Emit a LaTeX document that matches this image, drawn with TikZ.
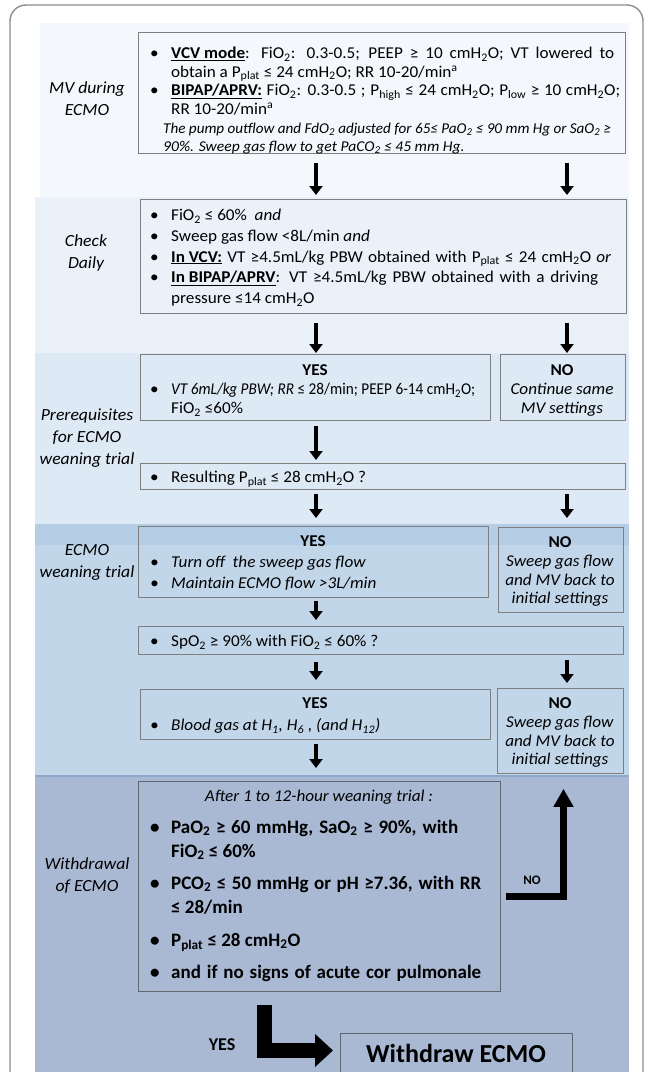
\documentclass[tikz,border=0pt]{standalone}
\usepackage{fontspec}
\usepackage{graphicx}
\setmainfont{Carlito}[FakeStretch=1.04]
\newfontfamily\plainfont{Carlito}
\usetikzlibrary{arrows.meta}
\definecolor{bandA}{HTML}{F4F8FD}
\definecolor{bandB}{HTML}{EAF1F9}
\definecolor{bandC}{HTML}{DDE9F5}
\definecolor{bandD}{HTML}{C2D6EA}
\definecolor{bandDtop}{HTML}{B5CDE5}
\definecolor{bandE}{HTML}{A9B9D4}
\definecolor{bandline}{HTML}{8EA8CC}
\definecolor{framegray}{HTML}{8C8C8C}
\definecolor{boxgray}{HTML}{7F7F7F}
\definecolor{boxdark}{HTML}{5F6670}
\newcommand\sbs[1]{\textsubscript{#1}}
\newcommand\bl{\makebox[21pt][l]{\textbullet}}
\newcommand\ind{\hspace*{21pt}}
\newcommand\tstrut{\rule{0pt}{13pt}}
\newcommand\bstrut{\rule{0pt}{15pt}}
% set a line to a given width: spread the spaces, or squeeze if too long
\newcommand\fitw[2]{\setbox0=\hbox{#2}\ifdim\wd0>#1\relax\resizebox{#1}{\height}{\box0}\else\makebox[#1][s]{#2}\fi}
\tikzset{
  box/.style={draw=boxgray, line width=0.8pt, inner sep=0pt, anchor=north west},
  dbox/.style={draw=boxdark, line width=0.9pt, inner sep=0pt, anchor=north west},
  txt/.style={inner sep=0pt, anchor=north west, align=left, font=\fontsize{16.5}{19}\selectfont},
  ctxt/.style={inner sep=0pt, anchor=north, align=center, font=\fontsize{16.5}{19}\selectfont},
  lbl/.style={inner sep=0pt, anchor=center, align=center, font=\fontsize{17}{22}\selectfont\itshape},
  btxt/.style={inner sep=0pt, anchor=north west, align=left, font=\plainfont\fontsize{19}{24}\selectfont\bfseries},
  arr/.style={line width=4.5pt, -{Triangle[width=13pt,length=9pt]}},
  noarr/.style={line width=7pt, line join=miter, -{Triangle[width=19pt,length=18pt]}},
  yesarr/.style={line width=15pt, line join=miter, -{Triangle[width=32pt,length=18pt]}}
}
\begin{document}
\begin{tikzpicture}[x=1pt,y=-1pt]
\useasboundingbox (0,0) rectangle (648,1072);
\clip (0,0) rectangle (648,1072);
% bands
\fill[bandA] (40,23) rectangle (629,200);
\fill[bandB] (35,197) rectangle (629,353);
\fill[bandC] (35,353) rectangle (629,524);
\fill[bandD] (35,524) rectangle (629,776);
\fill[bandDtop] (35,524) rectangle (629,545);
\fill[bandE] (35,776) rectangle (629,1090);
\draw[bandline, line width=2pt] (35,776) -- (629,776);
% outer frame
\draw[framegray, line width=1.4pt, rounded corners=16pt] (10,5) rectangle (643,1110);
% boxes
\node[box, minimum width=487pt, minimum height=121pt] (b1) at (138,32) {};
\node[box, minimum width=486pt, minimum height=114pt] (b2) at (140,199) {};
\node[box, minimum width=350pt, minimum height=66pt] (yes1) at (140,354) {};
\node[box, minimum width=125pt, minimum height=66pt] (no1) at (500,354) {};
\node[box, minimum width=485pt, minimum height=26pt] (res) at (140,463) {};
\node[box, minimum width=350pt, minimum height=71pt] (yes2) at (138,526) {};
\node[box, minimum width=125pt, minimum height=85pt] (no2) at (498,527) {};
\node[box, minimum width=485pt, minimum height=28pt] (spo) at (138,626) {};
\node[box, minimum width=350pt, minimum height=50pt] (yes3) at (140,689) {};
\node[box, minimum width=126pt, minimum height=85pt] (no3) at (497,688) {};
\node[dbox, minimum width=362pt, minimum height=210pt] (wd) at (138,781) {};
\node[dbox, minimum width=232pt, minimum height=60pt] (wde) at (340,1033) {};
% section labels
\node[lbl] (l1) at (87,99) {MV during\\ECMO};
\node[lbl] (l2) at (86,253) {Check\\Daily};
\node[lbl] (l3) at (87,438) {Prerequisites\\for ECMO\\weaning trial};
\node[lbl] (l4) at (87,562) {ECMO\\weaning trial};
\node[lbl] (l5) at (87,876) {Withdrawal\\of ECMO};
% box texts
\node[txt, font=\fontsize{16.5}{18.6}\selectfont] (t1) at (150,45.5) {\tstrut\bl\fitw{443pt}{\underline{\textbf{VCV mode}}: FiO\sbs{2}: 0.3-0.5; PEEP ≥ 10 cmH\sbs{2}O; VT lowered to}\\
\ind obtain a P\sbs{plat} ≤ 24 cmH\sbs{2}O; RR 10-20/min\textsuperscript{a}\\
\bl\fitw{449pt}{\underline{\textbf{BIPAP/APRV:}} FiO\sbs{2}: 0.3-0.5 ; P\sbs{high} ≤ 24 cmH\sbs{2}O; P\sbs{low} ≥ 10 cmH\sbs{2}O;}\\
\ind RR 10-20/min\textsuperscript{a}\\
\hspace*{13pt}{\fontsize{15}{18.6}\selectfont\itshape\fitw{448pt}{The pump outflow and FdO\sbs{2} adjusted for 65≤ PaO\sbs{2} ≤ 90 mm Hg or SaO\sbs{2} ≥}}\\
\hspace*{13pt}{\fontsize{15}{18.6}\selectfont\itshape 90\%. Sweep gas flow to get PaCO\sbs{2} ≤ 45 mm Hg.}};
\node[txt, font=\fontsize{16.5}{20.7}\selectfont] (t2) at (150,207.5) {\tstrut\bl FiO\sbs{2} ≤ 60\%\ \ \textit{and}\\
\bl Sweep gas flow <8L/min \textit{and}\\
\bl\fitw{440pt}{\underline{\textbf{In VCV:}} VT ≥4.5mL/kg PBW obtained with P\sbs{plat} ≤ 24 cmH\sbs{2}O \textit{or}}\\
\bl\fitw{427pt}{\underline{\textbf{In BIPAP/APRV}}: VT ≥4.5mL/kg PBW obtained with a driving}\\
\ind pressure ≤14 cmH\sbs{2}O};
\node[ctxt] (y1h) at (315,362.5) {\tstrut\textbf{YES}};
\node[txt] (y1t) at (150,381.5) {\tstrut\bl\fitw{304pt}{\textit{VT 6mL/kg PBW; RR} ≤ 28/min; PEEP 6-14 cmH\sbs{2}O;}\\
\ind FiO\sbs{2} ≤60\%};
\node[ctxt] (n1t) at (562,362.5) {\tstrut\textbf{NO}\\\textit{Continue same}\\\textit{MV settings}};
\node[txt] (rt) at (150,469.5) {\tstrut\bl Resulting P\sbs{plat} ≤ 28 cmH\sbs{2}O ?};
\node[ctxt] (y2h) at (313,533.5) {\tstrut\textbf{YES}};
\node[txt, font=\fontsize{16.5}{21}\selectfont\itshape] (y2t) at (150,554.5) {\tstrut\bl Turn off\ \ the sweep gas flow\\
\bl Maintain ECMO flow >3L/min};
\node[ctxt, font=\fontsize{16.5}{18.7}\selectfont] (n2t) at (560,534.5) {\tstrut\textbf{NO}\\\textit{Sweep gas flow}\\\textit{and MV back to}\\\textit{initial settings}};
\node[txt] (st) at (150,633.5) {\tstrut\bl SpO\sbs{2} ≥ 90\% with FiO\sbs{2} ≤ 60\% ?};
\node[ctxt] (y3h) at (315,695.5) {\tstrut\textbf{YES}};
\node[txt, font=\fontsize{16.5}{19}\selectfont\itshape] (y3t) at (150,717.5) {\tstrut\bl Blood gas at H\sbs{1}, H\sbs{6} , (and H\sbs{12})};
\node[ctxt, font=\fontsize{16.5}{18.7}\selectfont] (n3t) at (560,695.5) {\tstrut\textbf{NO}\\\textit{Sweep gas flow}\\\textit{and MV back to}\\\textit{initial settings}};
% withdrawal box text
\node[ctxt, font=\fontsize{16.5}{19}\selectfont\itshape] (wa) at (319,788.5) {\tstrut After 1 to 12-hour weaning trial :};
\node[btxt] (w1) at (150,818) {\bstrut\bl\fitw{287pt}{PaO\sbs{2} ≥ 60 mmHg, SaO\sbs{2} ≥ 90\%, with}\\\ind FiO\sbs{2} ≤ 60\%};
\node[btxt] (w2) at (150,874) {\bstrut\bl\fitw{310pt}{PCO\sbs{2} ≤ 50 mmHg or pH ≥7.36, with RR}\\\ind ≤ 28/min};
\node[btxt] (w3) at (150,931) {\bstrut\bl P\sbs{plat} ≤ 28 cmH\sbs{2}O};
\node[btxt] (w4) at (150,963) {\bstrut\bl\fitw{310pt}{and if no signs of acute cor pulmonale}};
\node[inner sep=0pt, font=\plainfont\fontsize{26}{30}\selectfont\bfseries] (wdt) at (456,1053) {Withdraw ECMO};
\node[inner sep=0pt, font=\plainfont\fontsize{18}{20}\selectfont\bfseries] (yl) at (222,1045) {YES};
\node[inner sep=0pt, font=\plainfont\fontsize{13}{15}\selectfont\bfseries] (nl) at (532,880) {NO};
% arrows
\coordinate (cL) at (316,0);
\coordinate (cR) at (567,0);
\draw[arr, shorten <=9pt, shorten >=4pt] (b1.south -| cL) -- (b2.north -| cL);
\draw[arr, shorten <=9pt, shorten >=4pt] (b1.south -| cR) -- (b2.north -| cR);
\draw[arr, shorten <=9pt, shorten >=1pt] (b2.south -| cL) -- (yes1.north -| cL);
\draw[arr, shorten <=9pt, shorten >=1pt] (b2.south -| cR) -- (no1.north -| cR);
\draw[arr, shorten <=5pt, shorten >=3pt] (yes1.south -| cL) -- (res.north -| cL);
\draw[arr, shorten <=4pt, shorten >=8pt] (res.south -| cL) -- (yes2.north -| cL);
\draw[arr, shorten <=4pt, shorten >=9pt] (res.south -| cR) -- (no2.north -| cR);
\draw[arr, shorten <=3pt, shorten >=6pt] (yes2.south -| cL) -- (spo.north -| cL);
\draw[arr, shorten <=7pt, shorten >=9pt] (spo.south -| cL) -- (yes3.north -| cL);
\draw[arr, shorten <=5pt, shorten >=5pt] (spo.south -| cR) -- (no3.north -| cR);
\draw[arr, shorten <=4pt, shorten >=13pt] (yes3.south -| cL) -- (wd.north -| cL);
% NO L-arrow
\coordinate (nos) at (506,896.5);
\coordinate (nox) at (563.5,0);
\draw[noarr] (nos) -| ([yshift=-15pt]no3.south -| nox);
% YES L-arrow
\coordinate (yss) at (264,1005);
\draw[yesarr, shorten >=7pt] (yss) |- ([yshift=13pt]wde.west);
\end{tikzpicture}
\end{document}
